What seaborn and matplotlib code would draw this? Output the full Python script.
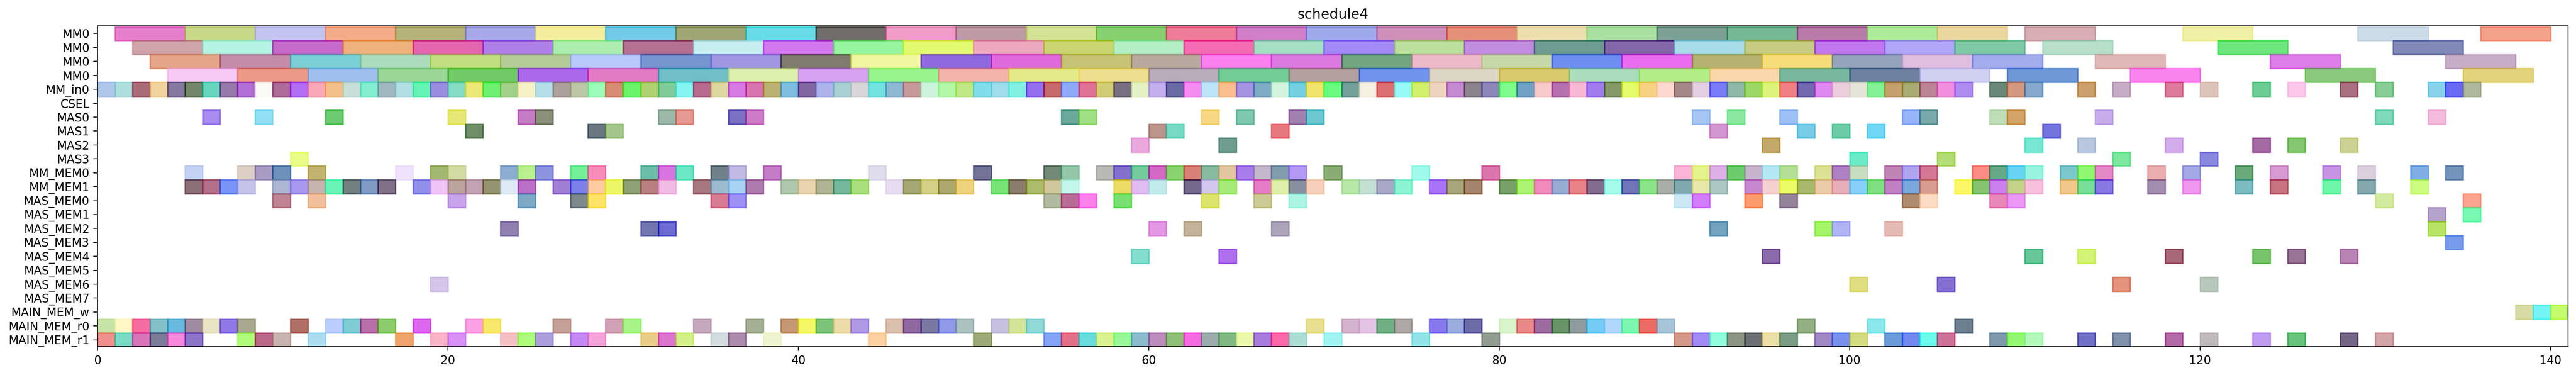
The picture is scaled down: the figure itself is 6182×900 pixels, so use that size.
import matplotlib
matplotlib.use("Agg")
import matplotlib.pyplot as plt
import seaborn as sns
import numpy as np
from matplotlib.colors import to_rgb

# ---------------- data ----------------
ROW_LABELS = ["MM0", "MM0", "MM0", "MM0", "MM_in0", "CSEL", "MAS0", "MAS1", "MAS2", "MAS3",
              "MM_MEM0", "MM_MEM1", "MAS_MEM0", "MAS_MEM1", "MAS_MEM2", "MAS_MEM3",
              "MAS_MEM4", "MAS_MEM5", "MAS_MEM6", "MAS_MEM7", "MAIN_MEM_w",
              "MAIN_MEM_r0", "MAIN_MEM_r1"]

MM_DURATION = 4
OP_DURATION = 1

MM0_A_START = [1, 5, 9, 13, 17, 21, 25, 29, 33, 37, 41, 45, 49, 53, 57, 61, 65, 69, 73, 77,
               81, 85, 89, 93, 97, 101, 105, 110, 119, 129, 136]
MM0_A_COLOR = ["#e57fcc", "#c8d986", "#c5c5f2", "#f5ab87", "#b6b27a", "#a6a8e8", "#f4ed9e", "#72cbe8",
               "#9fa674", "#67dde9", "#716d6a", "#f29cc8", "#be9aa4", "#d4e294", "#86d170", "#ee7b98",
               "#d07ec8", "#9eaaec", "#cf8fb9", "#e48f78", "#eddeae", "#aae0a0", "#7ca093", "#75b895",
               "#b87aa8", "#acec98", "#ebd79e", "#d8aeb4", "#f0f0a6", "#ccdbe8", "#f5a28a"]

MM0_B_START = [2, 6, 10, 14, 18, 22, 26, 30, 34, 38, 42, 46, 50, 54, 58, 62, 66, 70, 74, 78,
               82, 86, 90, 94, 98, 102, 106, 111, 121, 131]
MM0_B_COLOR = ["#d0a4ab", "#b6f5e2", "#c86bcb", "#edb27e", "#e466b0", "#b07fe9", "#abefb0", "#b57192",
               "#c6edf0", "#d477ef", "#97f59f", "#e2fb70", "#eca8bf", "#cbd771", "#b4eec4", "#f46db2",
               "#a5e0c5", "#a48af6", "#bcdf9c", "#c28ddf", "#6e9c93", "#8467a8", "#a8dce8", "#c8cc82",
               "#c177ef", "#b1a6f7", "#80c9a6", "#b7dfca", "#6de77d", "#8189b8"]

MM0_C_START = [3, 7, 11, 15, 19, 23, 27, 31, 35, 39, 43, 47, 51, 55, 59, 63, 67, 71, 75, 79,
               83, 87, 91, 95, 99, 103, 107, 114, 124, 134]
MM0_C_COLOR = ["#e6a589", "#c48ca9", "#7bd0d6", "#acdcbe", "#c2e080", "#b4cc97", "#b8cafb", "#7795cf",
               "#a196e2", "#7f7b6e", "#f0f8a0", "#8f6ade", "#e06add", "#c8c478", "#b8a89e", "#fc80ee",
               "#dc7ae0", "#72a681", "#edbaca", "#c8d8a8", "#6f8ef2", "#ea6cf0", "#b6b372", "#f8dd7a",
               "#96a4bc", "#dfbedf", "#a3aced", "#dfb7b7", "#de7ee9", "#c8aec6"]

MM0_D_START = [4, 8, 12, 16, 20, 24, 28, 32, 36, 40, 44, 48, 52, 56, 60, 64, 68, 72, 76, 80,
               84, 88, 92, 96, 100, 104, 109, 116, 126, 135]
MM0_D_COLOR = ["#f8cbf6", "#eb9a88", "#9fc0ee", "#9bd697", "#72c967", "#ad68ec", "#e37bc4", "#71bfc8",
               "#def0ae", "#d6a2f2", "#97f48d", "#f3b4ac", "#e6ea88", "#efe08e", "#b9adba", "#73cd96",
               "#b4a09f", "#7093ee", "#ddd6c4", "#d9ca6e", "#abdcbb", "#b2ed88", "#fad8ac", "#79b79e",
               "#6e81a0", "#d0d0f2", "#6f98d6", "#fa84ee", "#8bca7e", "#e2d37c"]

MM_IN0_START = [0, 1, 2, 3, 4, 5, 6, 7, 8, 9, 10, 11, 12, 13, 14, 15, 16, 17, 18, 19,
                20, 21, 22, 23, 24, 25, 26, 27, 28, 29, 30, 31, 32, 33, 34, 35, 36, 37, 38, 39,
                40, 41, 42, 43, 44, 45, 46, 47, 48, 49, 50, 51, 52, 53, 54, 55, 56, 57, 58, 59,
                60, 61, 62, 63, 64, 65, 66, 67, 68, 69, 70, 71, 72, 73, 74, 75, 76, 77, 78, 79,
                80, 81, 82, 83, 84, 85, 86, 87, 88, 89, 90, 91, 92, 93, 94, 95, 96, 97, 98, 99,
                100, 101, 102, 103, 104, 105, 106, 108, 109, 110, 113, 115, 118, 120, 123, 125,
                128, 130, 133, 134, 135]
MM_IN0_COLOR = ["#b0c8e8", "#b0e0dc", "#aa6b78", "#f0d49c", "#847aa0", "#738669", "#68d6bf", "#977aaa",
                "#b36fd6", "#f9faf4", "#b06b9a", "#b26ef5", "#f9a8b8", "#f5c089", "#c8e0d6", "#86eed1",
                "#a0b8c0", "#b2e0e4", "#66f4b4", "#9a8cde", "#86dcc4", "#ede87a", "#6ef070", "#a2d28a",
                "#f6f2c8", "#b4dfea", "#aba09c", "#bec6a8", "#9cfcb8", "#d68c72", "#6af46a", "#b0d270",
                "#80cc98", "#86f4f2", "#b96b8e", "#dcd8a0", "#d87ae6", "#d874b0", "#bcb272", "#80bee0",
                "#8266a0", "#acb4ec", "#a9d1d4", "#d8d6d8", "#74e2e0", "#8fb8d4", "#c89a9a", "#ccf4dc",
                "#b4f8a8", "#c0e884", "#80dcea", "#9edeec", "#84f0e4", "#9470f0", "#c86a6c", "#8eaaf8",
                "#e07296", "#d0cc78", "#787080", "#e4f2c4", "#c4b0ee", "#6a6aa4", "#f68cf2", "#bde4f8",
                "#fcbf8c", "#a594e2", "#7eacc4", "#d2f4dc", "#74d0e0", "#f0e46c", "#6afc80", "#74a09c",
                "#f6f0e2", "#dc7070", "#98faf8", "#d4f06c", "#efd4c0", "#c48ad2", "#8c848c", "#8c86ba",
                "#80fc8c", "#70a0c4", "#f8cacc", "#b470b0", "#f6b8d2", "#a07cee", "#849868", "#e4fc6c",
                "#f6d282", "#fcd8d0", "#a48888", "#e4d0e2", "#7a7cf8", "#90b8a8", "#9bd866", "#dcf47c",
                "#f28084", "#7468ae", "#de88f0", "#eccedc", "#e4e6d8", "#84f294", "#c4a06c", "#a8ac72",
                "#bc8494", "#f090dc", "#b08cf0", "#6a8878", "#d29880", "#88aacc", "#cca06c", "#c6acc4",
                "#dc7b9c", "#dcc4bc", "#6ccc94", "#fcc8ec", "#a87080", "#86cc94", "#88d4ec", "#6a6af4",
                "#b0b89c"]

CSEL_START = []
CSEL_COLOR = []

MAS0_START = [6, 9, 13, 20, 24, 25, 32, 33, 36, 37, 55, 56, 63, 65, 68, 69, 91, 93, 96, 103,
              104, 108, 109, 114, 130, 133]
MAS0_COLOR = ["#a88cf0", "#92e0f4", "#6cca70", "#e6e874", "#c47cc4", "#8a907a", "#9cb8a8", "#e49a90",
              "#7a70c4", "#cc7cc8", "#6aa89a", "#a0e084", "#f6d884", "#80c8b0", "#a080b0", "#6cc8d0",
              "#a8c6f4", "#8ce8a0", "#9cc0f4", "#96b4f8", "#78a8aa", "#c0deb8", "#d4a468", "#c8acec",
              "#80d8bc", "#f4bcdc"]

MAS1_START = [21, 28, 29, 60, 61, 67, 92, 97, 99, 101, 111]
MAS1_COLOR = ["#718f69", "#6a7680", "#a4c68c", "#bc948c", "#78dac4", "#e87880", "#d496d0", "#78cce8",
              "#6ccca8", "#70d8f4", "#7474dc"]

MAS2_START = [59, 64, 95, 110, 113, 118, 123, 125, 128]
MAS2_COLOR = ["#eaaadc", "#709c90", "#c4aa6c", "#78e8d4", "#b8c8e0", "#d4acea", "#a46aa2", "#84c870",
              "#ccd294"]

MAS3_START = [11, 100, 105, 115, 120]
MAS3_COLOR = ["#eafc88", "#6cecc8", "#b4dc74", "#7ee8a0", "#8888e0"]

MM_MEM0_START = [5, 8, 9, 10, 12, 17, 19, 20, 23, 24, 25, 27, 28, 31, 32, 33, 35, 36, 38, 44,
                 50, 54, 55, 57, 58, 59, 60, 61, 62, 63, 64, 65, 66, 67, 68, 70, 75, 79, 90, 91,
                 92, 93, 94, 95, 96, 98, 99, 100, 102, 103, 104, 107, 108, 109, 110, 112, 113, 114,
                 117, 119, 122, 124, 127, 129, 132, 134]
MM_MEM0_COLOR = ["#c4d4f4", "#dcd0c4", "#a89cc4", "#6c92bc", "#c2b470", "#eee2fc", "#a0b870", "#d4dca4",
                 "#8cacd0", "#baf090", "#8c94e0", "#74f098", "#f88cbc", "#6cbea8", "#d874e0", "#6ce8c4",
                 "#708088", "#c0bae4", "#c47cc8", "#e0dcec", "#747498", "#728878", "#94c8a8", "#b8b8b4",
                 "#8470cc", "#74cc9c", "#d468c8", "#88d470", "#da8078", "#86bca0", "#e2c6a0", "#aa7cec",
                 "#c4b8cc", "#829cb0", "#b49af4", "#8aac74", "#a0faec", "#dc74ac", "#fcb4d8", "#e4f48c",
                 "#e0b0e8", "#6ccc6c", "#c8b4cc", "#b4e8f4", "#b4e094", "#dce294", "#ae80c4", "#c8dec0",
                 "#c084b4", "#b0a4f0", "#d47894", "#fc8c84", "#64a888", "#68d4f4", "#98f4e0", "#7cc8cc",
                 "#90f870", "#e488c8", "#eaaeb0", "#a4a8e4", "#6aaa7a", "#d89ad2", "#c894e4", "#dcd0e0",
                 "#7eaee4", "#7494bc"]

MM_MEM1_START = [5, 6, 7, 8, 10, 11, 12, 13, 14, 15, 16, 18, 19, 20, 21, 22, 23, 24, 26, 27,
                 28, 29, 30, 31, 32, 34, 35, 36, 37, 39, 40, 41, 42, 43, 45, 46, 47, 48, 49, 51,
                 52, 53, 54, 55, 58, 59, 60, 62, 63, 64, 66, 67, 68, 69, 71, 72, 73, 74, 76, 77,
                 78, 80, 81, 82, 83, 84, 85, 86, 87, 88, 89, 90, 91, 92, 94, 95, 96, 97, 98, 99,
                 100, 101, 102, 103, 104, 106, 107, 108, 109, 110, 112, 113, 114, 117, 119, 122,
                 124, 127, 129, 132]
MM_MEM1_COLOR = ["#8c7078", "#b47088", "#7894f8", "#c4c4ec", "#acb8d4", "#a898ee", "#c8b4b0", "#6af4b8",
                 "#728080", "#809cc4", "#807088", "#9090ec", "#f2c4f8", "#bca49c", "#c4a4b4", "#949470",
                 "#e0ecf4", "#bc70c8", "#a07ed4", "#7c80ec", "#fccca0", "#ecf85c", "#8ea076", "#b88080",
                 "#f2bce4", "#a87880", "#9cbcd0", "#a8d4f4", "#b07aac", "#b0c8ac", "#ead4b0", "#b0b494",
                 "#76b89c", "#aae07c", "#e8dcf0", "#a4a874", "#d4d088", "#aca870", "#eed27e", "#78e478",
                 "#8c7c6c", "#acbc6c", "#d0c89c", "#c4f8ec", "#ecdc60", "#e0bcf2", "#c4ecec", "#746a8c",
                 "#d4c8f0", "#a6ec78", "#e47cc8", "#e0f0a8", "#8890a0", "#f8d0bc", "#b8e8a8", "#c4e0d4",
                 "#a8aac8", "#8cf4d4", "#a874f8", "#a8a67c", "#a4846a", "#7aa06a", "#acf474", "#f08cbc",
                 "#98acd4", "#e88488", "#846c8c", "#a4fcec", "#7074b8", "#8ce488", "#a8b0a8", "#80a8b0",
                 "#e8e8a8", "#acc8c4", "#c888d0", "#f4d0d0", "#ecfc60", "#a8b86c", "#eccca8", "#e4b0b8",
                 "#88d0f8", "#80e080", "#c080c4", "#78a8dc", "#d89c90", "#fcf860", "#84c470", "#cc80f0",
                 "#c4d488", "#f8c0dc", "#f0c888", "#78e098", "#8878e4", "#a48eb0", "#f098f0", "#7cbcc0",
                 "#c87480", "#6ef8a8", "#84a8ac", "#ccfc80"]

MAS_MEM0_START = [10, 12, 20, 24, 27, 28, 35, 36, 54, 55, 56, 58, 63, 66, 68, 90, 91, 94, 96, 103,
                  104, 108, 109, 130, 135]
MAS_MEM0_COLOR = ["#c08494", "#f0c09c", "#c8a4ec", "#7eaac4", "#7c888c", "#fce468", "#d87c94", "#9c90f4",
                  "#b0baa0", "#b86c94", "#fc80ec", "#78e070", "#dce46c", "#ccca94", "#acf4e4", "#cce8f4",
                  "#d47cfc", "#fc9a6c", "#948498", "#b08c70", "#fcdcc4", "#e888b8", "#ea98f4", "#d4eca0",
                  "#fca490"]

MAS_MEM1_START = [133, 135]
MAS_MEM1_COLOR = ["#b4a4cc", "#78fab4"]

MAS_MEM2_START = [23, 31, 32, 60, 62, 67, 92, 98, 99, 102, 133]
MAS_MEM2_COLOR = ["#9080b0", "#7276b0", "#6c6cd4", "#e498e4", "#c4b49c", "#aca4b8", "#74a4c0", "#a4f468",
                  "#b0b4f4", "#e4bcb4", "#b8e464"]

MAS_MEM3_START = [134]
MAS_MEM3_COLOR = ["#789cec"]

MAS_MEM4_START = [59, 64, 95, 110, 113, 118, 123, 125, 128]
MAS_MEM4_COLOR = ["#84dece", "#b070f0", "#8a6aa8", "#68c898", "#d4f474", "#a86878", "#78c46c", "#9a7496",
                  "#b884b4"]

MAS_MEM5_START = []
MAS_MEM5_COLOR = []

MAS_MEM6_START = [19, 100, 105, 115, 120]
MAS_MEM6_COLOR = ["#d4c4e8", "#e0de80", "#8470d0", "#e4947c", "#b8c8bc"]

MAS_MEM7_START = []
MAS_MEM7_COLOR = []

MAIN_MEM_W_START = [138, 139, 140]
MAIN_MEM_W_COLOR = ["#d8dca4", "#74f4f4", "#c4fc6c"]

MAIN_MEM_R0_START = [0, 1, 2, 3, 4, 5, 6, 7, 8, 11, 13, 14, 15, 16, 18, 21, 22, 26, 29, 30,
                     34, 37, 39, 40, 41, 42, 43, 45, 46, 47, 48, 49, 51, 52, 53, 69, 71, 72, 73, 74,
                     76, 77, 78, 80, 81, 82, 83, 84, 85, 86, 87, 88, 89, 97, 101, 106]
MAIN_MEM_R0_COLOR = ["#c8e4a8", "#fcf8c4", "#f86ca0", "#84c0c8", "#68bce0", "#a08ca0", "#e8e4c4", "#9078e8",
                     "#aaaa90", "#b07068", "#bccefc", "#80ccd4", "#b870a8", "#8ccc6c", "#dc68f0", "#fca0e4",
                     "#f8e86c", "#c4a098", "#d0a0b4", "#a8f488", "#c4a8bc", "#a4b094", "#c49874", "#f4f864",
                     "#7cc47c", "#ecdca8", "#b098e4", "#dcc0b0", "#9068a0", "#7a78a0", "#9098e8", "#acc0c0",
                     "#c8c0e0", "#d4e498", "#90dad8", "#e8e090", "#d4b4cc", "#e4c4e4", "#70b084", "#b0a8a4",
                     "#8878f0", "#9cacdc", "#6e6ca8", "#d8f4cc", "#e88888", "#9c6ca0", "#689468", "#909c9c",
                     "#74ccf4", "#b0d8fc", "#7cf8b0", "#ec6c64", "#a8c4d8", "#94b084", "#8ce8ec", "#6c8090"]

MAIN_MEM_R1_START = [0, 1, 2, 3, 4, 5, 8, 9, 10, 12, 17, 19, 20, 23, 24, 25, 27, 28, 31, 32,
                     33, 35, 36, 38, 44, 50, 54, 55, 56, 57, 58, 59, 60, 61, 62, 63, 64, 65, 66, 67,
                     68, 70, 75, 79, 90, 91, 92, 93, 94, 95, 96, 98, 99, 100, 102, 103, 104, 105, 108,
                     109, 110, 113, 115, 118, 120, 123, 125, 128, 130]
MAIN_MEM_R1_COLOR = ["#f0908c", "#78dcc8", "#d874b8", "#7a7c98", "#f888dc", "#8c74c8", "#b0fc78", "#bc6888",
                     "#c8b4b0", "#acdcf0", "#eea46c", "#f8b4c8", "#d890f8", "#f4c0c4", "#acfc78", "#aca0dc",
                     "#c488f4", "#f4a4d8", "#e8cc88", "#dc74d0", "#d4f088", "#d4dce0", "#ac8cac", "#eef4d0",
                     "#fcd0a0", "#9caa78", "#84a4f8", "#e47088", "#6adcdc", "#d8f090", "#98f898", "#8cbccc",
                     "#bc8cbc", "#90c078", "#f46ce0", "#9cacac", "#80b884", "#ecf8ac", "#a87cdc", "#fc68a8",
                     "#acdcd4", "#a0f4f0", "#90e4e8", "#909c90", "#d49888", "#a08cf4", "#90fcdc", "#8c9484",
                     "#6c7074", "#ece0a8", "#7a9c84", "#a088c4", "#7890ec", "#d4dc80", "#6c9cd8", "#7088f0",
                     "#6cfcec", "#cc7098", "#8098ac", "#94f870", "#b4f8bc", "#7070c4", "#8092ac", "#b46aa6",
                     "#c0bcbc", "#c09cf0", "#68c47c", "#746484", "#d4a4a8"]

ROWS = [
    (MM0_A_START, MM0_A_COLOR, MM_DURATION),
    (MM0_B_START, MM0_B_COLOR, MM_DURATION),
    (MM0_C_START, MM0_C_COLOR, MM_DURATION),
    (MM0_D_START, MM0_D_COLOR, MM_DURATION),
    (MM_IN0_START, MM_IN0_COLOR, OP_DURATION),
    (CSEL_START, CSEL_COLOR, OP_DURATION),
    (MAS0_START, MAS0_COLOR, OP_DURATION),
    (MAS1_START, MAS1_COLOR, OP_DURATION),
    (MAS2_START, MAS2_COLOR, OP_DURATION),
    (MAS3_START, MAS3_COLOR, OP_DURATION),
    (MM_MEM0_START, MM_MEM0_COLOR, OP_DURATION),
    (MM_MEM1_START, MM_MEM1_COLOR, OP_DURATION),
    (MAS_MEM0_START, MAS_MEM0_COLOR, OP_DURATION),
    (MAS_MEM1_START, MAS_MEM1_COLOR, OP_DURATION),
    (MAS_MEM2_START, MAS_MEM2_COLOR, OP_DURATION),
    (MAS_MEM3_START, MAS_MEM3_COLOR, OP_DURATION),
    (MAS_MEM4_START, MAS_MEM4_COLOR, OP_DURATION),
    (MAS_MEM5_START, MAS_MEM5_COLOR, OP_DURATION),
    (MAS_MEM6_START, MAS_MEM6_COLOR, OP_DURATION),
    (MAS_MEM7_START, MAS_MEM7_COLOR, OP_DURATION),
    (MAIN_MEM_W_START, MAIN_MEM_W_COLOR, OP_DURATION),
    (MAIN_MEM_R0_START, MAIN_MEM_R0_COLOR, OP_DURATION),
    (MAIN_MEM_R1_START, MAIN_MEM_R1_COLOR, OP_DURATION),
]

# ---------------- style ----------------
sns.set_style("ticks", rc={
    "axes.edgecolor": "black", "axes.linewidth": 0.8,
    "xtick.color": "black", "ytick.color": "black", "text.color": "black",
    "axes.labelcolor": "black",
    "xtick.major.width": 0.8, "ytick.major.width": 0.8,
    "xtick.major.size": 3.5, "ytick.major.size": 3.5,
})
plt.rcParams["font.family"] = ["DejaVu Sans"]
plt.rcParams["font.size"] = 10
plt.rcParams["xtick.labelsize"] = 10
plt.rcParams["ytick.labelsize"] = 10
plt.rcParams["axes.titlesize"] = 12

ALPHA = 0.6


def base_color(hex_shown):
    """Colour that, drawn with ALPHA over white, shows as hex_shown."""
    d = np.array(to_rgb(hex_shown))
    return tuple(np.clip(1 - (1 - d) / ALPHA, 0, 1))


DPI = 200
fig = plt.figure(figsize=(6182 / DPI, 900 / DPI), dpi=DPI)
ax = fig.add_axes([0.03785, 0.0751, 0.99693 - 0.03785, 0.931 - 0.0751])

for row, (starts, colors, dur) in enumerate(ROWS):
    if not starts:
        continue
    cols = [base_color(c) for c in colors]
    ax.barh(y=[row] * len(starts), width=dur, left=starts, height=1.0,
            color=cols, edgecolor=cols, alpha=ALPHA, linewidth=1.2)

ax.set_xlim(0, 141)
ax.set_ylim(22.5, -0.55)
ax.set_yticks(range(len(ROW_LABELS)))
ax.set_yticklabels(ROW_LABELS)
ax.set_xticks([0, 20, 40, 60, 80, 100, 120, 140])
ax.set_title("schedule4")
for s in ax.spines.values():
    s.set_visible(True)

fig.savefig("out.png", dpi=DPI)
